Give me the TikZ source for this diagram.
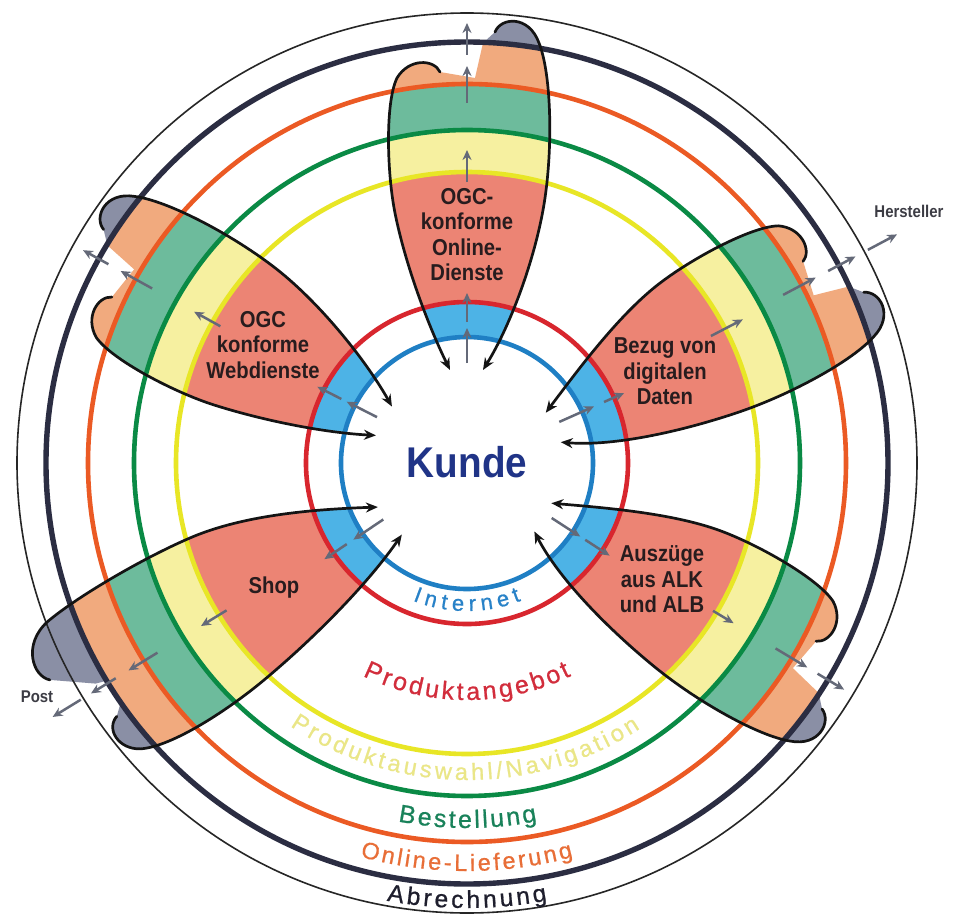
\documentclass[tikz,border=0pt]{standalone}
\usepackage{fontspec}
\setmainfont{Liberation Sans}
\newfontfamily\condfont[FakeStretch=0.88]{Liberation Sans}
\newfontfamily\kundefont[FakeStretch=0.9]{Liberation Sans}
\newfontfamily\ringfont[FakeBold=0.8]{Liberation Sans}
\usetikzlibrary{arrows.meta,decorations.text}
\definecolor{rblue}{RGB}{31,127,196}
\definecolor{rred}{RGB}{216,38,46}
\definecolor{ryellow}{RGB}{232,230,38}
\definecolor{rgreen}{RGB}{10,138,69}
\definecolor{rorange}{RGB}{235,90,36}
\definecolor{rnavy}{RGB}{43,45,66}
\definecolor{fblue}{RGB}{77,179,230}
\definecolor{fsalmon}{RGB}{236,132,116}
\definecolor{fyellow}{RGB}{246,240,160}
\definecolor{fteal}{RGB}{109,187,156}
\definecolor{fpeach}{RGB}{241,170,126}
\definecolor{fgray}{RGB}{138,143,165}
\definecolor{agray}{RGB}{100,105,120}
\definecolor{ptext}{RGB}{40,28,30}
\definecolor{kundec}{RGB}{32,52,135}
\definecolor{hgray}{RGB}{60,60,68}
\definecolor{tblue}{RGB}{40,130,200}
\definecolor{tred}{RGB}{210,45,60}
\definecolor{tyellow}{RGB}{234,230,135}
\definecolor{tgreen}{RGB}{25,130,90}
\definecolor{torange}{RGB}{232,110,55}
\definecolor{tnavy}{RGB}{30,30,45}
% generic petal (local frame: y' outward along the axis)
\def\petL{(-27,391) .. controls (-33,404) and (-58,405) .. (-70,385) .. controls (-82,360) and (-80,290) .. (-72,250) .. controls (-62,200) and ({-40+\pshift},140) .. ({-17+\pshift},93)}
\def\petR{(28,431) .. controls (34,446) and (62,448) .. (72,420) .. controls (84,390) and (86,320) .. (78,265) .. controls (70,210) and ({45+\pshift},140) .. ({16+\pshift},93)}
\def\petRrev{({16+\pshift},93) .. controls ({45+\pshift},140) and (70,210) .. (78,265) .. controls (86,320) and (84,390) .. (72,420) .. controls (62,448) and (34,446) .. (28,431)}
\def\petJag{-- (16,420) -- (8,385) -- cycle}
% shop petal
\def\shopL{(-33,431) .. controls (-38,447) and (-62,447) .. (-73,428) .. controls (-88,400) and (-86,330) .. (-78,280) .. controls (-68,215) and (-50,145) .. (-27,93)}
\def\shopR{(33,469) .. controls (45,482) and (78,474) .. (84,440) .. controls (90,400) and (88,320) .. (80,270) .. controls (70,210) and (35,145) .. (9,99)}
\def\shopRrev{(9,99) .. controls (35,145) and (70,210) .. (80,270) .. controls (88,320) and (90,400) .. (84,440) .. controls (78,474) and (45,482) .. (33,469)}
\def\shopJag{-- (6,432) -- (2,419) -- (-22,419) -- cycle}
\newcommand\petbands{%
  \fill[fgray, even odd rule] (0,0) circle (480) (0,0) circle (421);
  \fill[fpeach, even odd rule] (0,0) circle (421) (0,0) circle (379);
  \fill[fteal, even odd rule] (0,0) circle (379) (0,0) circle (333);
  \fill[fyellow, even odd rule] (0,0) circle (333) (0,0) circle (291);
  \fill[fsalmon, even odd rule] (0,0) circle (291) (0,0) circle (161);
  \fill[fblue, even odd rule] (0,0) circle (161) (0,0) circle (126);}
\newcommand\ringlabel[6]{%
  \path[decorate, decoration={text along path,
    text={|\ringfont\fontsize{#5}{#5}\selectfont\color{#4}|#6},
    text align={fit to path}}]
    (#2:#1) arc[start angle=#2, end angle=#3, radius=#1];}
\begin{document}
\begin{tikzpicture}[x=1pt,y=1pt,
  blk/.style={line width=2.7pt, draw=black!92, line cap=round},
  blkarrow/.style={blk, -{Stealth[length=12pt,width=10pt]}},
  garrow/.style={line width=2.5pt, draw=agray, -{Stealth[length=10pt,width=9pt]}},
  ringline/.style={line width=4.6pt},
  petaltext/.style={font=\condfont\bfseries\fontsize{23}{25.5}\selectfont, text=ptext, align=center, inner sep=0pt},
  sidetext/.style={font=\condfont\bfseries\fontsize{17}{17}\selectfont, text=hgray, inner sep=0pt}]
\fill[white] (-467,-451) rectangle (497,463);
\useasboundingbox (-467,-451) rectangle (497,463);
% ---------- petal fills ----------
\begin{scope}[rotate=0]\def\pshift{0}\clip \petL -- \petRrev \petJag; \petbands\end{scope}
\begin{scope}[rotate=61]\def\pshift{-3}\clip \petL -- \petRrev \petJag; \petbands\end{scope}
\begin{scope}[rotate=-63]\def\pshift{8}\clip \petL -- \petRrev \petJag; \petbands\end{scope}
\begin{scope}[rotate=-121]\def\pshift{8}\clip \petL -- \petRrev \petJag; \petbands\end{scope}
\begin{scope}[rotate=121.5]\clip \shopL -- \shopRrev \shopJag; \petbands\end{scope}
% ---------- rings ----------
\draw[black!85, line width=1.6pt] (0,0) circle (450);
\draw[rnavy, line width=5.4pt] (0,0) circle (421);
\draw[rorange, ringline] (0,0) circle (379);
\draw[rgreen, ringline] (0,0) circle (333);
\draw[ryellow, ringline] (0,0) circle (291);
\draw[rred, ringline] (0,0) circle (161);
\draw[rblue, ringline] (0,0) circle (126);
% ---------- grey flow arrows ----------
\foreach \a/\r/\R in {90/100/135, 90/141/170, 90/281/313, 90/360/397, 90/408/440,
  153/101/135, 153/141/168, 151/282/312, 151/360/396, 151/410/439,
  24/101/139, 24/150/172, 27.5/275/311, 28/358/395, 28/409/440, 28/454/487,
  214/101/137, 214/145/172, 211.5/282/312, 211.5/363/397, 211.5/412/441, 211.5/453/486,
  -33/101/135, -33/141/170, -31/287/311, -31/360/397, -31/409/440}
  \draw[garrow] (\a:\r) -- (\a:\R);
% ---------- petal outlines ----------
\begin{scope}[rotate=0]\def\pshift{0}\draw[blkarrow] \petL; \draw[blkarrow] \petR;\end{scope}
\begin{scope}[rotate=61]\def\pshift{-3}\draw[blkarrow] \petL; \draw[blkarrow] \petR;\end{scope}
\begin{scope}[rotate=-63]\def\pshift{8}\draw[blkarrow] \petL; \draw[blkarrow] \petR;\end{scope}
\begin{scope}[rotate=-121]\def\pshift{8}\draw[blkarrow] \petL; \draw[blkarrow] \petR;\end{scope}
\begin{scope}[rotate=121.5]\draw[blkarrow] \shopL; \draw[blkarrow] \shopR;\end{scope}
% ---------- texts ----------
\node[font=\kundefont\bfseries\fontsize{43}{43}\selectfont, text=kundec, inner sep=0pt] (kunde) at (0,0.5) {Kunde};
\node[petaltext] (ogcon) at (0,228.5) {OGC-\\konforme\\Online-\\Dienste};
\node[petaltext] (ogcweb) at (-204,118) {OGC\\konforme\\Webdienste};
\node[petaltext] (bezug) at (198,91.5) {Bezug von\\digitalen\\Daten};
\node[petaltext, anchor=base] (shop) at (-193,-130) {Shop};
\node[petaltext] (auszug) at (195,-116.5) {Auszüge\\aus ALK\\und ALB};
\node[sidetext] (herst) at (442,252) {Hersteller};
\node[sidetext] (post) at (-430,-234) {Post};
\ringlabel{148}{248.5}{291.5}{tblue}{22}{Internet}
\ringlabel{237}{243.9}{296.1}{tred}{25}{Produktangebot}
\ringlabel{317}{236.1}{303.1}{tyellow}{23.5}{Produktauswahl/Navigation}
\ringlabel{365}{259.1}{281.1}{tgreen}{25}{Bestellung}
\ringlabel{408}{254.8}{285.1}{torange}{23.5}{Online-Lieferung}
\ringlabel{445}{259.6}{280.4}{tnavy}{24.5}{Abrechnung}
\end{tikzpicture}
\end{document}
